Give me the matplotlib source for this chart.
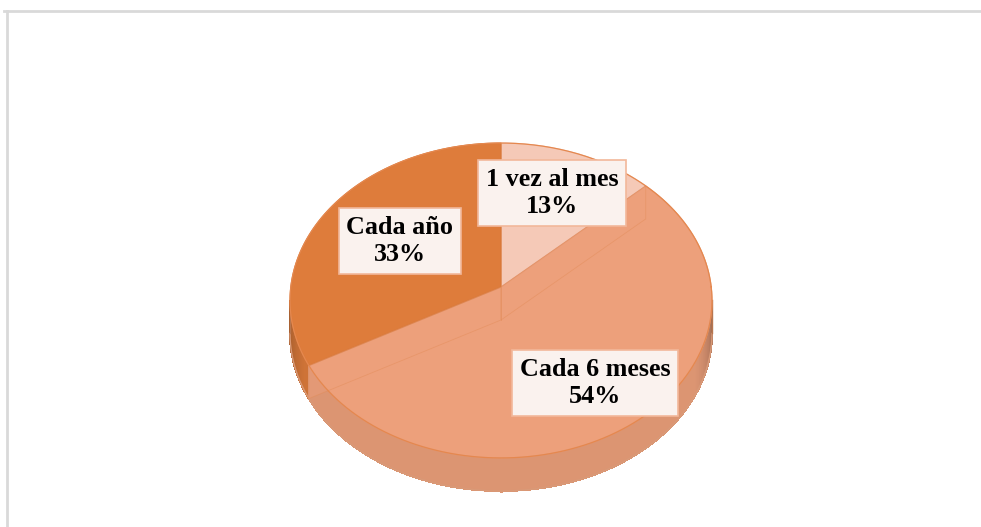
import numpy as np
import matplotlib
matplotlib.use("Agg")
import matplotlib.pyplot as plt
from matplotlib.patches import Polygon
from matplotlib.lines import Line2D
from matplotlib.colors import to_rgb

# ---- data ----
categories = ["1 vez al mes", "Cada 6 meses", "Cada año"]
percentages = [13, 54, 33]
top_colors = ["#F5C9B7", "#EDA07B", "#DE7C3B"]
label_centers = [(552, 193), (595, 383), (400, 241)]

# ---- layout (pixel space) ----
W, H = 981, 527
cx, cy = 501.0, 287.0      # projected pie centre (apex)
A, B = 210.2, 156.3        # projected radii
k = 0.0857                 # perspective factor
depth = 33.0

fig = plt.figure(figsize=(W / 100, H / 100), dpi=100)
ax = fig.add_axes([0, 0, 1, 1])
ax.set_xlim(0, W)
ax.set_ylim(H, 0)
ax.axis("off")

# outer chart frame (top and left edges visible)
ax.add_line(Line2D([4, W], [10.5, 10.5], color="#D9D9D9", lw=2.0))
ax.add_line(Line2D([6.5, 6.5], [10.5, H], color="#D9D9D9", lw=2.0))


def proj(t, dz=0.0):
    t = np.asarray(t, dtype=float)
    u, v = np.cos(t), np.sin(t)
    w = 1 + k * v
    return cx + A * u / w, cy - B * v / w + dz


def shade(c, f):
    r, g, b = to_rgb(c)
    return (min(r * f, 1), min(g * f, 1), min(b * f, 1))


# slice angles (start 12 o'clock, clockwise)
fr = np.array(percentages, float) / sum(percentages)
bounds = np.pi / 2 - 2 * np.pi * np.concatenate([[0], np.cumsum(fr)])


def slice_of(t):
    for j in range(len(fr)):
        hi_, lo_ = bounds[j], bounds[j + 1]
        tt = t
        while tt > hi_:
            tt -= 2 * np.pi
        while tt < lo_:
            tt += 2 * np.pi
        if lo_ <= tt <= hi_:
            return j
    return 1


# ---- side wall (front half only; silhouette where sin t = -k) ----
t_lo = -np.pi + np.arcsin(k)
t_hi = -np.arcsin(k)
segs = np.linspace(t_lo, t_hi, 300)
for i in range(len(segs) - 1):
    a0, a1 = segs[i], segs[i + 1]
    tm = 0.5 * (a0 + a1)
    idx = slice_of(tm)
    s = max(-np.sin(tm), 0.0)
    f = 0.60 + 0.33 * min(1.0, s * 2.2) ** 0.8
    col = shade(top_colors[idx], f)
    x0, y0 = proj(a0)
    x1, y1 = proj(a1)
    ax.add_patch(Polygon([(x0, y0), (x1, y1), (x1, y1 + depth), (x0, y0 + depth)],
                         closed=True, facecolor=col, edgecolor=col, lw=0.8,
                         antialiased=False, zorder=2))

# bottom rim line + side end edges
tt = np.linspace(t_lo, t_hi, 200)
bx, by = proj(tt, depth)
ax.plot(bx, by, color="#D99A78", lw=1.0, zorder=3)
for te in (t_lo, t_hi):
    ex, ey = proj(te)
    ax.plot([ex, ex], [ey, ey + depth], color="#B8764F", lw=1.0, zorder=3)

# ---- top face ----
for j in range(len(fr)):
    ts = np.linspace(bounds[j], bounds[j + 1], 200)
    xs, ys = proj(ts)
    pts = [(cx, cy)] + list(zip(xs, ys))
    ax.add_patch(Polygon(pts, closed=True, facecolor=top_colors[j],
                         edgecolor=shade(top_colors[j], 0.97), lw=0.8, zorder=4))

# translucent inner radial walls (glass-like look)
for j, tb in enumerate(bounds[:-1]):
    px, py = proj(tb)
    wall = [(cx, cy), (px, py), (px, py + depth), (cx, cy + depth)]
    ax.add_patch(Polygon(wall, closed=True, facecolor=top_colors[1],
                         alpha=0.45, edgecolor="#E28A55", lw=0.6, zorder=5))

# top outline
ts = np.linspace(0, 2 * np.pi, 400)
ox, oy = proj(ts)
ax.plot(ox, oy, color="#E5884F", lw=0.9, zorder=6)

# ---- labels ----
for cat, p, (lx, ly) in zip(categories, percentages, label_centers):
    ax.text(lx, ly, f"{cat}\n{p}%", ha="center", va="center",
            family=["Liberation Serif", "DejaVu Serif"], weight="bold",
            fontsize=18.8, linespacing=1.2, color="black", zorder=10,
            bbox=dict(boxstyle="square,pad=0.3", facecolor="#FAF2EE",
                      edgecolor="#F2B89A", lw=1.2))

fig.savefig("out.png", dpi=100)
